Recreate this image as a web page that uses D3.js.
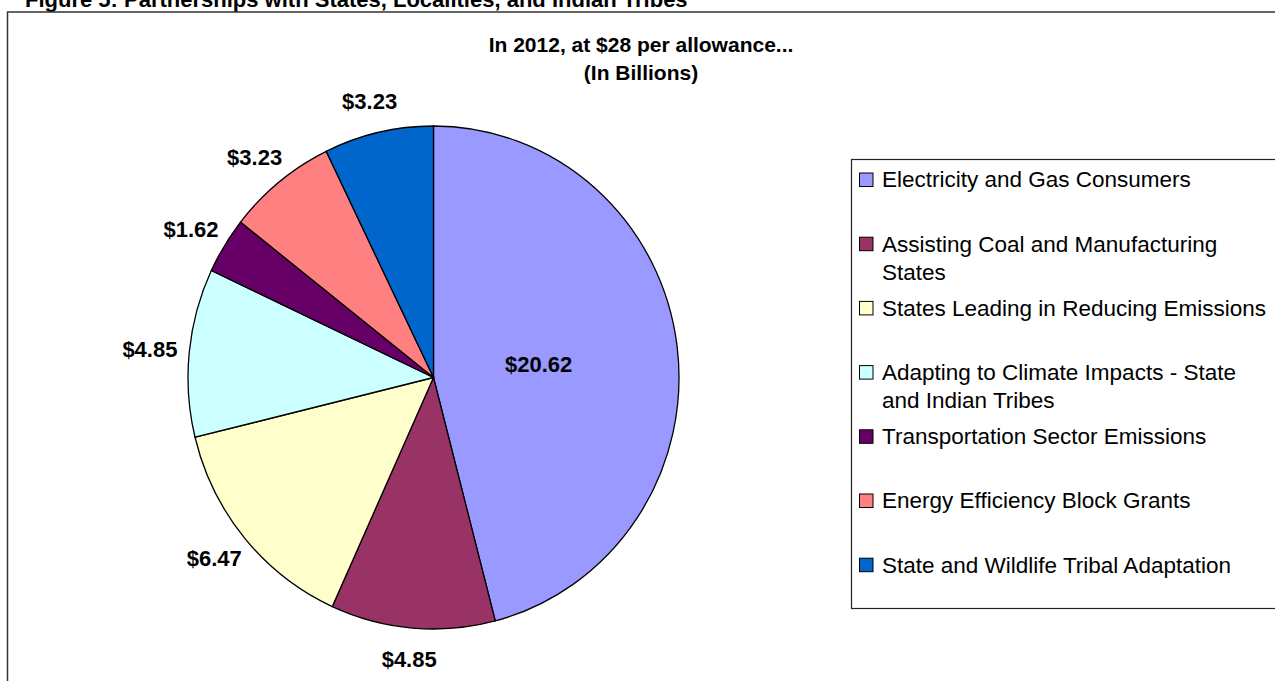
<!DOCTYPE html>
<html>
<head>
<meta charset="utf-8">
<script src="https://cdn.jsdelivr.net/npm/d3@7"></script>
<style>
  body { margin: 0; background: #fff; }
  svg { display: block; font-family: Arial, "Liberation Sans", sans-serif; }
</style>
</head>
<body>
<svg id="chart" width="1275" height="681"></svg>
<script>
// Data (billions of dollars, 2012)
var categories = [
  "Electricity and Gas Consumers",
  "Assisting Coal and Manufacturing\nStates",
  "States Leading in Reducing Emissions",
  "Adapting to Climate Impacts - State\nand Indian Tribes",
  "Transportation Sector Emissions",
  "Energy Efficiency Block Grants",
  "State and Wildlife Tribal Adaptation"
];
var values = [20.62, 4.85, 6.47, 4.85, 1.62, 3.23, 3.23];
var caption = "Figure 5: Partnerships with States, Localities, and Indian Tribes";
var titleLines = ["In 2012, at $28 per allowance...", "(In Billions)"];

var palette = ["#9999FF", "#993366", "#FFFFCC", "#CCFFFF", "#660066", "#FF8080", "#0066CC"];

var svg = d3.select("#chart");

// caption (cut off at the top of the page)
svg.append("text")
    .attr("x", 25)
    .attr("y", 7)
    .attr("font-size", "22px")
    .attr("font-weight", "bold")
    .text(caption);

// outer chart frame
svg.append("rect")
    .attr("x", 7.5)
    .attr("y", 12)
    .attr("width", 1400)
    .attr("height", 800)
    .attr("fill", "#fff")
    .attr("stroke", "#333")
    .attr("stroke-width", 1.5);

// title
svg.append("g").selectAll("text")
  .data(titleLines)
  .enter().append("text")
    .attr("x", 641)
    .attr("y", function(d, i) { return 45 + i * 28; })
    .attr("dy", "0.35em")
    .attr("text-anchor", "middle")
    .attr("font-size", "21px")
    .attr("font-weight", "bold")
    .text(function(d) { return d; });

// pie
var cx = 433.5, cy = 377.5, r = 245.5;
var color = d3.scaleOrdinal().domain(categories).range(palette);
var pie = d3.pie().sort(null).value(function(d) { return d.value; });
var rows = categories.map(function(c, i) { return {name: c, value: values[i]}; });
var arcs = pie(rows);
var arc = d3.arc().innerRadius(0).outerRadius(r);

var g = svg.append("g")
    .attr("transform", "translate(" + cx + "," + cy + ") scale(1,1.0244)");

g.selectAll("path")
  .data(arcs)
  .enter().append("path")
    .attr("d", arc)
    .attr("fill", function(d) { return color(d.data.name); })
    .attr("stroke", "#000")
    .attr("stroke-width", 1.3)
    .attr("vector-effect", "non-scaling-stroke");

// data labels: outside at a fixed radius, inside for the big slice
var fmt = d3.format(".2f");
svg.append("g").selectAll("text")
  .data(arcs)
  .enter().append("text")
    .attr("x", function(d) {
      var a = (d.startAngle + d.endAngle) / 2;
      var lr = (d.endAngle - d.startAngle) > Math.PI / 2 ? 106 : 285;
      return cx + lr * Math.sin(a);
    })
    .attr("y", function(d) {
      var a = (d.startAngle + d.endAngle) / 2;
      var lr = (d.endAngle - d.startAngle) > Math.PI / 2 ? 106 : 283;
      return cy - lr * Math.cos(a);
    })
    .attr("dy", "0.35em")
    .attr("text-anchor", "middle")
    .attr("font-size", "22px")
    .attr("font-weight", "bold")
    .text(function(d) { return "$" + fmt(d.data.value); });

// legend
svg.append("rect")
    .attr("x", 851.5)
    .attr("y", 159.5)
    .attr("width", 600)
    .attr("height", 449)
    .attr("fill", "#fff")
    .attr("stroke", "#222")
    .attr("stroke-width", 1.2);

var legend = svg.selectAll(".legend")
  .data(categories)
  .enter().append("g")
    .attr("class", "legend")
    .attr("transform", function(d, i) { return "translate(859," + (179.5 + i * 64.2) + ")"; });

legend.append("rect")
    .attr("x", 0.5)
    .attr("y", -6.5)
    .attr("width", 13.5)
    .attr("height", 13.5)
    .attr("fill", color)
    .attr("stroke", "#000")
    .attr("stroke-width", 1);

legend.append("text")
    .attr("font-size", "22.5px")
    .selectAll("tspan")
    .data(function(d) { return d.split("\n"); })
    .enter().append("tspan")
      .attr("x", 23)
      .attr("y", function(d, i) { return i * 28.5; })
      .attr("dy", "0.35em")
      .text(function(d) { return d; });
</script>
</body>
</html>
